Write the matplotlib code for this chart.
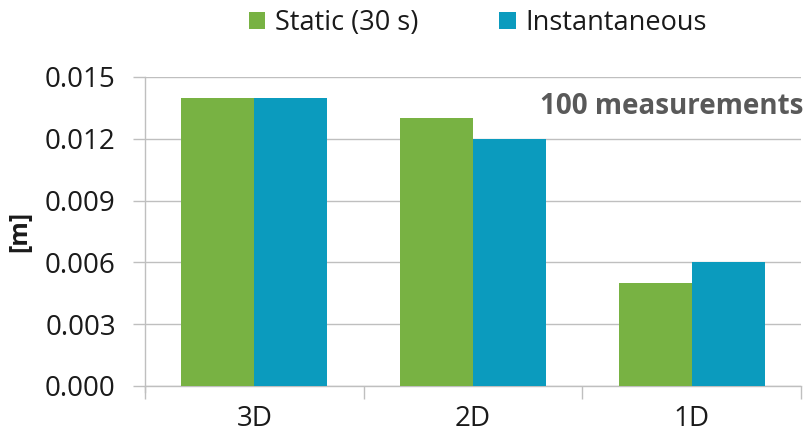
import matplotlib
matplotlib.use("Agg")
import matplotlib.pyplot as plt
import numpy as np

categories = ["3D", "2D", "1D"]
static_vals = [0.014, 0.013, 0.005]
instant_vals = [0.014, 0.012, 0.006]
series_names = ["Static (30 s)", "Instantaneous"]
yticks = [0.000, 0.003, 0.006, 0.009, 0.012, 0.015]

green = "#78B243"
blue = "#0B9BBE"
grid_c = "#BFBFBF"
text_c = "#1A1A1A"

plt.rcParams["font.family"] = ["Open Sans", "DejaVu Sans"]

fig = plt.figure(figsize=(8.07, 4.42), dpi=100)
ax = fig.add_axes([0.1797, 0.1267, 0.8129, 0.6991])

x = np.arange(len(categories))
w = 1 / 3
ax.bar(x - w / 2, static_vals, width=w, color=green, zorder=3, label=series_names[0])
ax.bar(x + w / 2, instant_vals, width=w, color=blue, zorder=3, label=series_names[1])

ax.set_xlim(-0.5, len(categories) - 0.5)
ax.set_ylim(0, 0.015)
ax.set_yticks(yticks)
ax.set_yticklabels([f"{v:.3f}" for v in yticks], fontsize=20, color=text_c)
ax.yaxis.grid(True, color=grid_c, linewidth=1.0, zorder=0)

# category boundaries as major ticks, labels on minor ticks at centers
ax.set_xticks(np.arange(-0.5, len(categories), 1.0))
ax.set_xticklabels([])
ax.set_xticks(x, minor=True)
ax.set_xticklabels(categories, minor=True, fontsize=20, color=text_c)
ax.tick_params(axis="x", which="major", length=9, color=grid_c, width=1.0)
ax.tick_params(axis="x", which="minor", length=0, pad=14)
ax.tick_params(axis="y", length=9, color=grid_c, width=1.0, pad=12)

for s in ["top", "right"]:
    ax.spines[s].set_visible(False)
for s in ["left", "bottom"]:
    ax.spines[s].set_color(grid_c)
    ax.spines[s].set_linewidth(1.0)
ax.spines["left"].set_bounds(-0.0003, 0.015)

ax.set_ylabel("[m]", fontsize=18, fontweight="bold", color=text_c)
ax.yaxis.set_label_coords(-0.172, 0.5)

ax.text(1.004, 0.905, "100 measurements", transform=ax.transAxes, ha="right",
        va="center", fontsize=20, fontweight="bold", color="#595959")

leg = fig.legend(loc="center", bbox_to_anchor=(0.592, 0.948), ncol=2, frameon=False,
                 fontsize=19.5, handlelength=0.6, handleheight=0.6, handletextpad=0.35,
                 columnspacing=3.0, labelcolor=text_c)

fig.savefig("out.png", dpi=100, facecolor="white")
